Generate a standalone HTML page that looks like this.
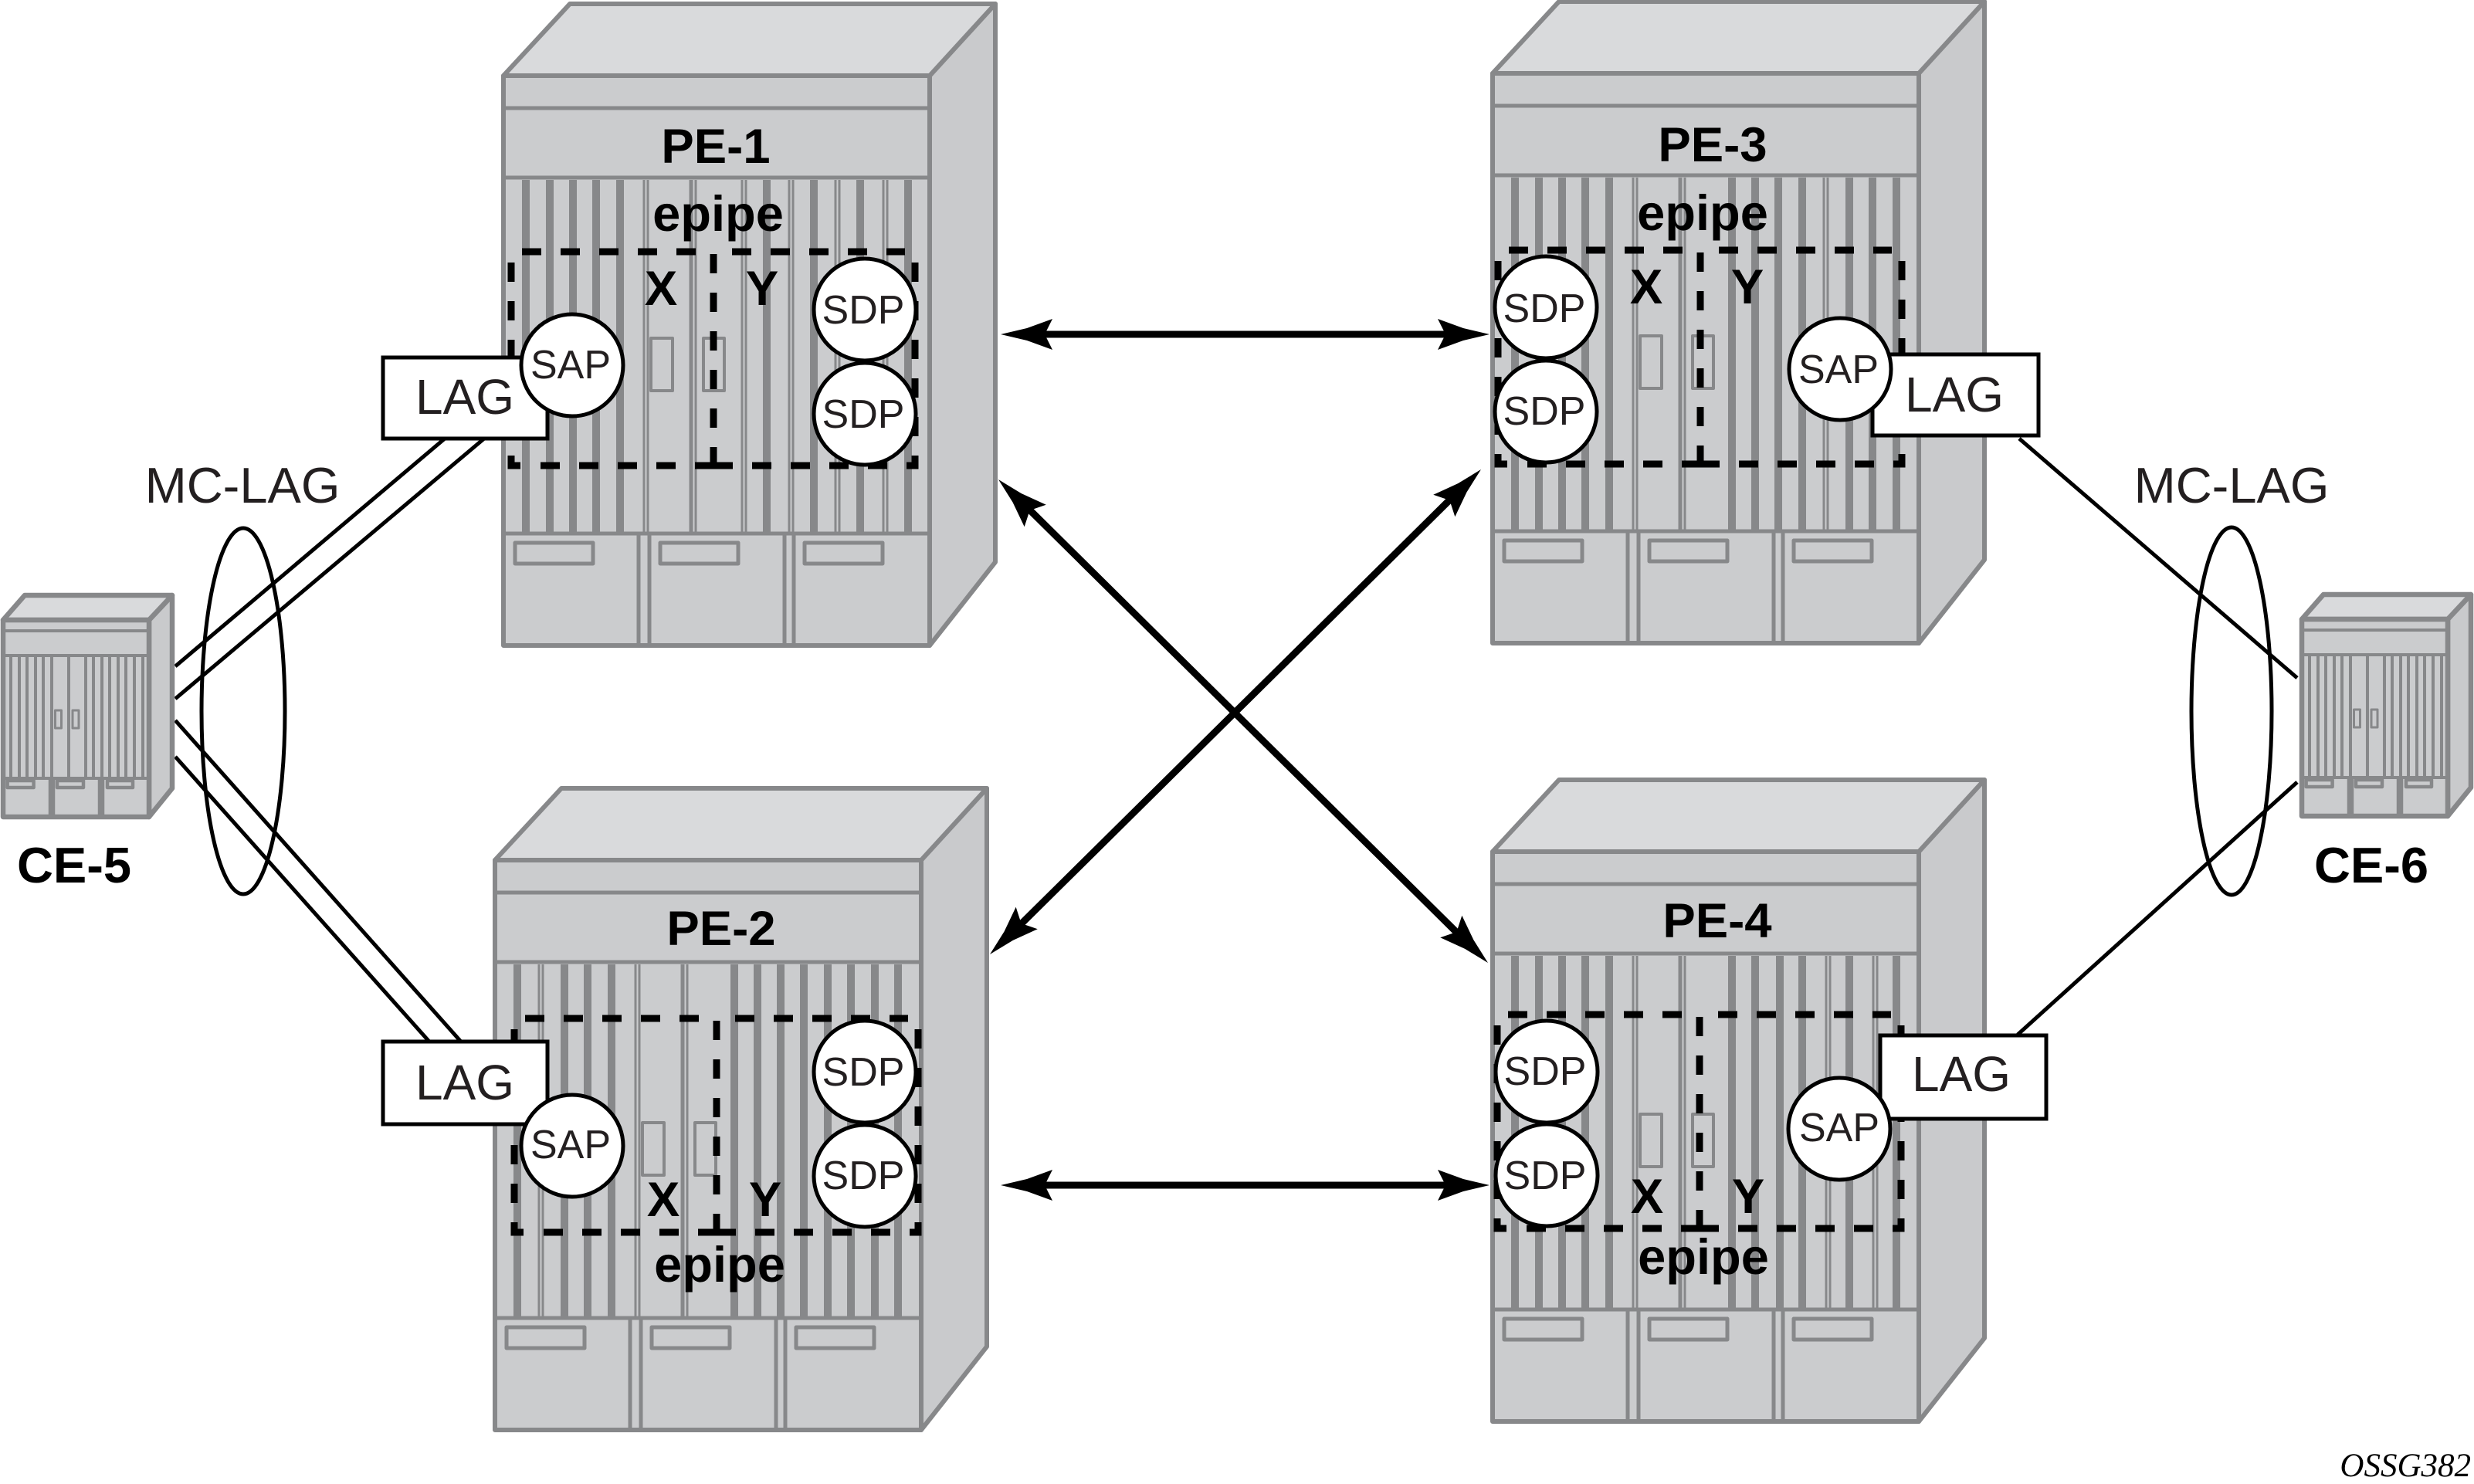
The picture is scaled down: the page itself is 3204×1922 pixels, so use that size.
<!DOCTYPE html>
<html><head><meta charset="utf-8"><title>MC-LAG epipe diagram</title>
<style>html,body{margin:0;padding:0;background:#fff}svg{display:block}
text{font-family:"Liberation Sans",sans-serif}
.b{font-weight:bold;font-size:63.5px;fill:#000;text-anchor:middle}
.e{font-size:65px}
.r{font-size:52px;fill:#231f20;text-anchor:middle}
.l{font-size:64px;fill:#231f20;text-anchor:middle}
</style></head><body>
<svg xmlns="http://www.w3.org/2000/svg" width="3204" height="1922" viewBox="0 0 3204 1922">
<defs>
<g id="pe" stroke="#87888a" stroke-linejoin="round">
<path d="M552,93 L637,0 V723 L552,831Z" fill="#c9cacc" stroke-width="6"/>
<path d="M0,93 L86,0 H637 L552,93Z" fill="#d9dadc" stroke-width="6"/>
<rect x="0" y="93" width="552" height="738" fill="#cbccce" stroke-width="6"/>
<g stroke-width="5" fill="none"><path d="M0,135H552M0,225H552M0,686H552"/></g>
<g stroke-width="10"><path d="M29,228V684M90,228V684M120,228V684M151,228V684"/></g>
<g stroke-width="3"><path d="M182,228V684M187,228V684M249,228V684"/></g>
<path d="M243,228V684" stroke-width="5"/>
<g stroke-width="5"><path d="M175,688V829M189,688V829M364,688V829M376,688V829"/></g>
<g stroke-width="5" fill="none"><rect x="15" y="698" width="101" height="27"/><rect x="203" y="698" width="101" height="27"/><rect x="390" y="698" width="101" height="27"/>
<rect x="191" y="433" width="28" height="68" stroke-width="4"/><rect x="259" y="433" width="27" height="68" stroke-width="4"/></g>
</g>
<g id="ce" stroke="#87888a" stroke-linejoin="round">
<path d="M189,32 L219,0 V250 L189,287Z" fill="#c9cacc" stroke-width="6.5"/>
<path d="M0,32 L28,0 H219 L189,32Z" fill="#d9dadc" stroke-width="6.5"/>
<rect x="0" y="32" width="189" height="255" fill="#cbccce" stroke-width="6.5"/>
<path d="M0,46H189M0,78H189M0,237H189" stroke-width="4" fill="none"/>
<path d="M10,78V237M21,78V237M31,78V237M42,78V237M52,78V237M63,78V237M85,78V237M107,78V237M117,78V237M128,78V237M138,78V237M149,78V237M159,78V237M170,78V237M181,78V237" stroke-width="4"/>
<path d="M63,237V287M127,237V287" stroke-width="8.5"/>
<g fill="none"><rect x="67.5" y="149" width="8" height="23" stroke-width="3"/><rect x="90" y="149" width="8" height="23" stroke-width="3"/>
<rect x="5.6" y="240" width="34" height="9" stroke-width="4.5"/><rect x="70" y="240" width="34" height="9" stroke-width="4.5"/><rect x="135" y="240" width="33" height="9" stroke-width="4.5"/></g>
</g>
<g id="box" stroke="#000" stroke-width="9" fill="none" stroke-dasharray="25 25">
<path d="M14,0H241"/><path d="M286,0H510"/>
<path d="M38,277H262"/><path d="M262,277H523"/>
<path d="M0,14V277H13"/>
<path d="M523,14V277H512"/>
<path d="M262,3V277"/>
</g>
<path id="ah" d="M0,0 L-34,-8 L-67,-20 L-57,0 L-67,20 L-34,8Z" fill="#000"/>
</defs>

<!-- links -->
<g stroke="#000" stroke-width="5" fill="none">
<path d="M227,863L576,568M227,905L627,568"/>
<path d="M227,933L596,1348M227,980L555,1348"/>
<path d="M2615,568L2975,878M2613,1340L2975,1013"/>
</g>

<!-- chassis -->
<use href="#pe" transform="translate(652,5)"/>
<g transform="translate(652,5)" stroke="#87888a"><path stroke-width="10" d="M60,228V684M341,228V684M402,228V684M462,228V684M524,228V684"/><path stroke-width="3" d="M309,228V684M314,228V684M370,228V684M375,228V684M430,228V684M435,228V684M492,228V684M497,228V684"/></g>
<use href="#pe" transform="translate(1933,2)"/>
<g transform="translate(1933,2)" stroke="#87888a"><path stroke-width="10" d="M60,228V684M310,228V684M340,228V684M370,228V684M401,228V684M462,228V684M492,228V684M523,228V684"/><path stroke-width="3" d="M429,228V684M434,228V684"/></g>
<use href="#pe" transform="translate(641,1021)"/>
<g transform="translate(641,1021)" stroke="#87888a"><path stroke-width="10" d="M310,228V684M340,228V684M370,228V684M400,228V684M431,228V684M461,228V684M492,228V684M522,228V684"/><path stroke-width="3" d="M57,228V684M62,228V684"/></g>
<use href="#pe" transform="translate(1933,1010)"/>
<g transform="translate(1933,1010)" stroke="#87888a"><path stroke-width="10" d="M60,228V684M310,228V684M340,228V684M372,228V684M401,228V684M462,228V684M523,228V684"/><path stroke-width="3" d="M432,228V684M437,228V684M493,228V684M498,228V684"/></g>
<use href="#ce" transform="translate(4,771)"/>
<use href="#ce" transform="translate(2981,770)"/>

<!-- ellipses -->
<ellipse cx="315" cy="921" rx="54" ry="237" fill="none" stroke="#000" stroke-width="5"/>
<ellipse cx="2890" cy="921" rx="52" ry="238" fill="none" stroke="#000" stroke-width="5"/>

<!-- dashed boxes -->
<use href="#box" transform="translate(662,326)"/>
<use href="#box" transform="translate(1940,324)"/>
<use href="#box" transform="translate(666,1319)"/>
<use href="#box" transform="translate(1939,1314)"/>

<!-- LAG boxes -->
<g fill="#fff" stroke="#000" stroke-width="5">
<rect x="496" y="463" width="213" height="105"/>
<rect x="2425" y="459" width="215" height="105"/>
<rect x="496" y="1349" width="213" height="107"/>
<rect x="2435" y="1341" width="215" height="108"/>
</g>
<!-- circles -->
<g fill="#fff" stroke="#000" stroke-width="5">
<circle cx="741" cy="473" r="66"/>
<circle cx="1120" cy="401" r="66"/><circle cx="1120" cy="536" r="66"/>
<circle cx="2383" cy="478" r="66"/>
<circle cx="2002" cy="398" r="66"/><circle cx="2002" cy="533" r="66"/>
<circle cx="741" cy="1484" r="66"/>
<circle cx="1120" cy="1388" r="66"/><circle cx="1120" cy="1523" r="66"/>
<circle cx="2382" cy="1462" r="66"/>
<circle cx="2003" cy="1388" r="66"/><circle cx="2003" cy="1522" r="66"/>
</g>

<!-- arrows -->
<g stroke="#000" stroke-width="9" fill="none">
<path d="M1340,433H1890M1340,1535H1890"/>
<path d="M1325,652L1895,1216"/>
<path d="M1885,640L1315,1204"/>
</g>
<use href="#ah" transform="translate(1296,433) rotate(180)"/>
<use href="#ah" transform="translate(1929,433)"/>
<use href="#ah" transform="translate(1296,1535) rotate(180)"/>
<use href="#ah" transform="translate(1929,1535)"/>
<use href="#ah" transform="translate(1293,621) rotate(224.6)"/>
<use href="#ah" transform="translate(1927,1247) rotate(44.6)"/>
<use href="#ah" transform="translate(1918,608) rotate(-44.6)"/>
<use href="#ah" transform="translate(1282,1236) rotate(135.4)"/>

<!-- labels -->
<text class="b" x="927" y="211">PE-1</text>
<text class="b e" x="930" y="299">epipe</text>
<text class="b" x="856" y="395">X</text>
<text class="b" x="987" y="395">Y</text>
<text class="b" x="2218" y="209">PE-3</text>
<text class="b e" x="2205" y="298">epipe</text>
<text class="b" x="2132" y="393">X</text>
<text class="b" x="2263" y="393">Y</text>
<text class="b" x="934" y="1224">PE-2</text>
<text class="b e" x="932" y="1660">epipe</text>
<text class="b" x="859" y="1575">X</text>
<text class="b" x="991" y="1575">Y</text>
<text class="b" x="2224" y="1214">PE-4</text>
<text class="b e" x="2206" y="1650">epipe</text>
<text class="b" x="2133" y="1571">X</text>
<text class="b" x="2264" y="1571">Y</text>

<text class="r" x="739" y="490">SAP</text>
<text class="r" x="1118" y="419">SDP</text>
<text class="r" x="1118" y="554">SDP</text>
<text class="r" x="2381" y="496">SAP</text>
<text class="r" x="2000" y="417">SDP</text>
<text class="r" x="2000" y="550">SDP</text>
<text class="r" x="739" y="1500">SAP</text>
<text class="r" x="1118" y="1406">SDP</text>
<text class="r" x="1118" y="1540">SDP</text>
<text class="r" x="2382" y="1478">SAP</text>
<text class="r" x="2001" y="1405">SDP</text>
<text class="r" x="2001" y="1540">SDP</text>

<text class="l" x="602" y="536">LAG</text>
<text class="l" x="2531" y="533">LAG</text>
<text class="l" x="602" y="1424">LAG</text>
<text class="l" x="2540" y="1413">LAG</text>

<text class="l" x="314" y="651" style="font-size:65px">MC-LAG</text>
<text class="l" x="2890" y="651" style="font-size:65px">MC-LAG</text>
<text class="b" x="96" y="1143" style="font-size:65px">CE-5</text>
<text class="b" x="3071" y="1143" style="font-size:65px">CE-6</text>
<text x="3200" y="1912" text-anchor="end" style="font-family:'Liberation Serif',serif;font-style:italic;font-size:43px;fill:#000">OSSG382</text>
</svg>
</body></html>
